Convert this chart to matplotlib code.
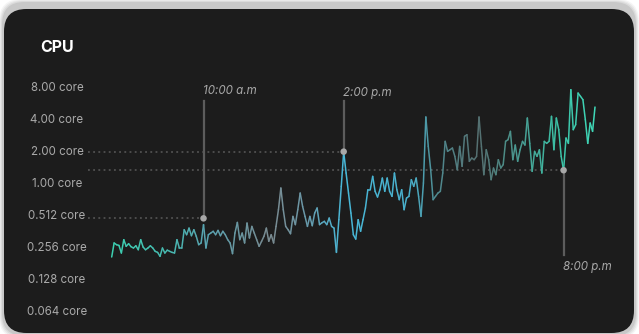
import numpy as np
import matplotlib
matplotlib.use("Agg")
import matplotlib.pyplot as plt
from matplotlib.collections import LineCollection
from matplotlib.colors import LinearSegmentedColormap
from matplotlib.patches import FancyBboxPatch

# ---------------- data ----------------
cpu_cores = [
    0.200, 0.271, 0.261, 0.257, 0.218, 0.291, 0.252, 0.267, 0.250, 0.243,
    0.255, 0.234, 0.291, 0.248, 0.234, 0.243, 0.255, 0.243, 0.226, 0.221,
    0.203, 0.243, 0.218, 0.232, 0.226, 0.221, 0.218, 0.291, 0.243, 0.243,
    0.361, 0.324, 0.374, 0.317, 0.361, 0.313, 0.261, 0.271, 0.403,
    0.243, 0.324, 0.336, 0.349, 0.324, 0.356, 0.317, 0.349, 0.324, 0.291,
    0.271, 0.215, 0.336, 0.423, 0.291, 0.336, 0.271, 0.417, 0.302, 0.388,
    0.336, 0.291, 0.252, 0.280, 0.313, 0.374, 0.281, 0.324, 0.271, 0.388,
    0.557, 0.891, 0.557, 0.388, 0.361, 0.331, 0.482, 0.403, 0.557, 0.799,
    0.599, 0.482, 0.388, 0.482, 0.394, 0.518, 0.578, 0.403, 0.420, 0.433,
    0.403, 0.465, 0.388, 0.374, 0.221, 0.449, 0.924, 1.95,
    1.233, 0.799, 0.518, 0.324, 0.295, 0.449, 0.349, 0.449, 0.578, 0.859,
    0.859, 1.147, 0.829, 0.733, 0.859, 1.106, 0.829, 1.106, 0.829, 0.744,
    1.233, 0.859, 0.692, 0.859, 0.557, 0.717, 0.744, 1.067, 0.924, 1.106,
    0.744, 0.482, 0.993, 4.15, 2.196, 1.325, 0.692, 0.744, 0.799, 0.829,
    1.233, 2.449, 1.971, 2.043, 2.119, 1.769, 1.325, 2.196, 1.424, 2.729,
    2.828, 1.588, 1.706, 1.646, 1.769, 4.15, 2.196, 1.189, 2.043, 1.646,
    1.067, 1.374, 1.189, 1.646, 1.374, 1.477, 2.449, 2.538, 3.040, 1.646,
    2.261, 1.588, 2.043, 2.449, 2.261, 4.06, 2.344, 1.278, 1.971, 1.769,
    2.043, 1.233, 2.449, 2.344, 2.449, 4.21, 2.043, 4.06, 3.152, 1.769,
    1.306,
    2.632, 2.344, 7.50, 3.152, 3.513, 6.97, 6.49, 6.04, 3.914, 2.344,
    3.642, 3.040, 5.15,
]
tick_values = [8, 4, 2, 1, 0.5, 0.25, 0.125, 0.0625]
tick_labels = ["8.00 core", "4.00 core", "2.00 core", "1.00 core",
               "0.512 core", "0.256 core", "0.128 core", "0.064 core"]
ann_labels = ["10:00 a.m", "2:00 p.m", "8:00 p.m"]
ann_index = [38, 96, 187]
ann_values = [0.462, 1.96, 1.31]

# ---------------- figure ----------------
W, H = 639, 334
fig = plt.figure(figsize=(W / 100, H / 100), dpi=100)
fig.patch.set_facecolor("white")

def fx(px):
    return px / W

def fy(py):
    return 1 - py / H

# shadow + card
for i, a in enumerate([0.04, 0.05, 0.06, 0.08]):
    g = 5 - i
    sh = FancyBboxPatch((fx(4 - g), fy(334 + g)), fx(630 + 2 * g), (330 + 2 * g) / H,
                        boxstyle="round,pad=0,rounding_size=0.035",
                        transform=fig.transFigure, facecolor="black", alpha=a,
                        edgecolor="none", zorder=0, mutation_aspect=W / H)
    fig.patches.append(sh)
card = FancyBboxPatch((fx(4), fy(333)), fx(630), 324 / H,
                      boxstyle="round,pad=0,rounding_size=0.035",
                      transform=fig.transFigure, facecolor="#1c1c1c",
                      edgecolor="none", zorder=1, mutation_aspect=W / H)
fig.patches.append(card)

fam = ["Inter", "DejaVu Sans"]
fig.text(fx(40), fy(47), "CPU", color="white", fontsize=11.5, fontweight="bold",
         family=fam, ha="left", va="center", zorder=3)

ax_l, ax_r, ax_t, ax_b = 88, 610, 80, 320
ax = fig.add_axes([fx(ax_l), fy(ax_b), fx(ax_r - ax_l), (ax_b - ax_t) / H])
ax.set_zorder(5)
ax.set_facecolor("none")
ax.patch.set_alpha(0)
for s in ax.spines.values():
    s.set_visible(False)
ax.set_yscale("log", base=2)

n = len(cpu_cores)
x = np.arange(n)
px_per = (595 - 111.7) / (n - 1)
ax.set_xlim(-(111.7 - ax_l) / px_per, (n - 1) + (ax_r - 595) / px_per)
e_top = (182.7 - ax_t) / 32
e_bot = (182.7 - ax_b) / 32
ax.set_ylim(2 ** e_bot, 2 ** e_top)

ax.set_yticks(tick_values)
ax.set_yticklabels(tick_labels)
ax.minorticks_off()
ax.set_xticks([])
ax.tick_params(axis="y", length=0, pad=(ax_l - 57) * 0.72, colors="#a9a9a9",
               labelsize=8.3)
for lbl in ax.get_yticklabels():
    lbl.set_ha("center")
    lbl.set_family(fam)

# gradient line
cmap = LinearSegmentedColormap.from_list("cpu", [
    (0.00, "#3ccfb0"),
    (0.12, "#48b8b0"),
    (0.20, "#5aa2b0"),
    (0.33, "#7a8a90"),
    (0.40, "#6a98a8"),
    (0.48, "#48b8d8"),
    (0.62, "#4ab0cc"),
    (0.67, "#4f8c92"),
    (0.76, "#556f70"),
    (0.84, "#4a9890"),
    (0.92, "#3cbfa5"),
    (1.00, "#3fd8b8"),
])
y = np.array(cpu_cores)
pts = np.column_stack([x, y]).reshape(-1, 1, 2)
segs = np.concatenate([pts[:-1], pts[1:]], axis=1)
lc = LineCollection(segs, colors=cmap((x[:-1] + 0.5) / (n - 1)), linewidths=1.1,
                    capstyle="round", joinstyle="round", zorder=3)
ax.add_collection(lc)

# annotations
xlo = ax.get_xlim()[0]
top_val = 2 ** ((182.7 - 101) / 32)
bot_val = 2 ** ((182.7 - 255) / 32)
for i, (lab, xi, v) in enumerate(zip(ann_labels, ann_index, ann_values)):
    ax.plot([xlo, xi], [v, v], color="#5a5a5a", lw=1.1, ls=(0, (1.2, 2.2)),
            zorder=2, solid_capstyle="butt")
    if i < 2:
        ax.plot([xi, xi], [v, top_val], color="#5c5c5c", lw=1.6, zorder=2)
        ty = 2 ** ((182.7 - (91 if i == 0 else 92.7)) / 32)
    else:
        ax.plot([xi, xi], [v, bot_val], color="#5c5c5c", lw=1.6, zorder=2)
        ty = 2 ** ((182.7 - 266.7) / 32)
    ax.scatter([xi], [v], s=22, color="#a8a8a8", zorder=5, edgecolors="none")
    ax.text(xi - 0.2, ty, lab, color="#a9a9a9", fontsize=8.3, style="italic",
            family=fam, ha="left", va="center", zorder=5)

fig.savefig("out.png", dpi=100, facecolor="white")
